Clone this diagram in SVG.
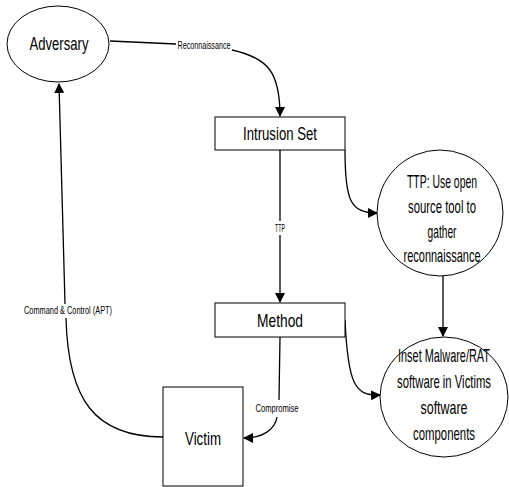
<svg xmlns="http://www.w3.org/2000/svg" width="509" height="487" viewBox="0 0 509 487">
<style>
.n{fill:#fff;stroke:#000;stroke-width:1}
.t{font-family:"Liberation Sans",Arial,sans-serif;font-size:19px;fill:#000;text-anchor:middle}
.s{font-family:"Liberation Sans",Arial,sans-serif;font-size:10px;fill:#000;text-anchor:middle}
.c{fill:none;stroke:#000;stroke-width:1.3}
</style>
<defs>
<marker id="a" markerWidth="10" markerHeight="10" refX="9" refY="5" orient="auto" markerUnits="userSpaceOnUse">
<path d="M0,0 L10,5 L0,10 Z" fill="#000"/>
</marker>
</defs>
<rect width="509" height="487" fill="#fff"/>
<g id="connectors">
<path class="c" d="M110,41 L176,44"/>
<path class="c" d="M232,50 C268,58 280,72 280,116" marker-end="url(#a)"/>
<path class="c" d="M280,150 L280,221"/>
<path class="c" d="M280,235 L280,302" marker-end="url(#a)"/>
<path class="c" d="M345,150 C345,200 350,213 377,213" marker-end="url(#a)"/>
<path class="c" d="M443,276 L443,336" marker-end="url(#a)"/>
<path class="c" d="M345,320 C348,385 355,396 380,395" marker-end="url(#a)"/>
<path class="c" d="M280,337 L279,400"/>
<path class="c" d="M277,417 C275,430 262,438 244,438" marker-end="url(#a)"/>
<path class="c" d="M163,437 C95,437 68,400 66,318"/>
<path class="c" d="M65,304 L59,84" marker-end="url(#a)"/>
</g>
<g id="adversary">
<ellipse class="n" cx="58" cy="44" rx="51" ry="38"/>
<text class="t" x="59" y="50" textLength="59" lengthAdjust="spacingAndGlyphs">Adversary</text>
</g>
<g id="intrusion-set">
<rect class="n" x="215" y="117" width="130" height="33"/>
<text class="t" x="280" y="140" textLength="74" lengthAdjust="spacingAndGlyphs">Intrusion Set</text>
</g>
<g id="ttp">
<ellipse class="n" cx="440" cy="213" rx="63" ry="63"/>
<text class="t" x="442" y="188" textLength="70" lengthAdjust="spacingAndGlyphs">TTP: Use open</text>
<text class="t" x="442" y="213" textLength="68" lengthAdjust="spacingAndGlyphs">source tool to</text>
<text class="t" x="442" y="238" textLength="29" lengthAdjust="spacingAndGlyphs">gather</text>
<text class="t" x="442" y="262" textLength="77" lengthAdjust="spacingAndGlyphs">reconnaissance</text>
</g>
<g id="method">
<rect class="n" x="215" y="303" width="130" height="34"/>
<text class="t" x="280" y="327" textLength="46" lengthAdjust="spacingAndGlyphs">Method</text>
</g>
<g id="inset">
<ellipse class="n" cx="444" cy="397" rx="64" ry="60"/>
<text class="t" x="444" y="362" textLength="92" lengthAdjust="spacingAndGlyphs">Inset Malware/RAT</text>
<text class="t" x="444" y="388" textLength="94" lengthAdjust="spacingAndGlyphs">software in Victims</text>
<text class="t" x="444" y="414" textLength="47" lengthAdjust="spacingAndGlyphs">software</text>
<text class="t" x="444" y="440" textLength="62" lengthAdjust="spacingAndGlyphs">components</text>
</g>
<g id="victim">
<rect class="n" x="163" y="387" width="80" height="99"/>
<text class="t" x="203" y="445" textLength="36" lengthAdjust="spacingAndGlyphs">Victim</text>
</g>
<g id="labels">
<text class="s" x="204" y="49" textLength="53" lengthAdjust="spacingAndGlyphs">Reconnaissance</text>
<text class="s" x="280" y="232" textLength="10" lengthAdjust="spacingAndGlyphs">TTP</text>
<text class="s" x="277" y="412" textLength="43" lengthAdjust="spacingAndGlyphs">Compromise</text>
<text class="s" x="68" y="314" textLength="88" lengthAdjust="spacingAndGlyphs">Command &amp; Control (APT)</text>
</g>
</svg>
